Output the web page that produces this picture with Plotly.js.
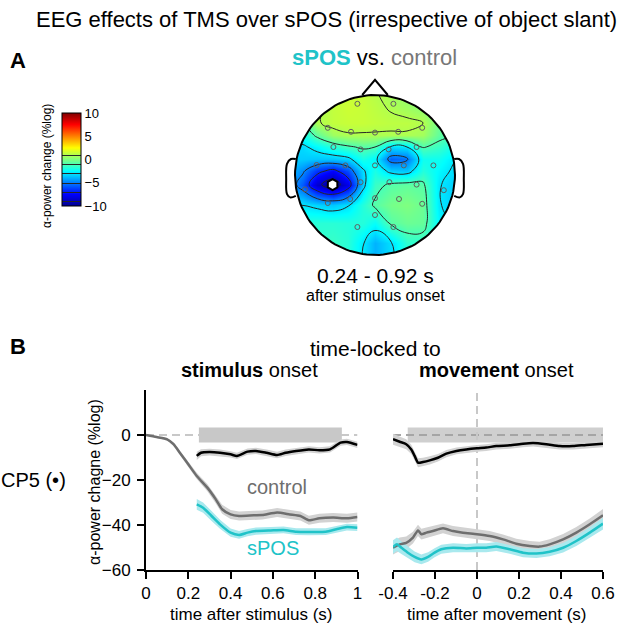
<!DOCTYPE html>
<html>
<head>
<meta charset="utf-8">
<script src="https://cdn.plot.ly/plotly-3.0.1.min.js"></script>
<style>
  body { margin: 0; background: #fff; }
  #chart { width: 640px; height: 626px; }
</style>
</head>
<body>
<div id="chart"></div>
<script>
// ---- panel B, stimulus-locked (time s, alpha power change %log) ----
var stimCtrlT = [0, 0.05, 0.1, 0.13, 0.16, 0.2, 0.24, 0.29, 0.33, 0.36, 0.4, 0.44, 0.51, 0.55, 0.62, 0.68, 0.73, 0.77, 0.82, 0.885, 0.95, 1.0];
var stimCtrl  = [0, -0.9, -1.9, -4.1, -7.9, -13, -18.2, -23.4, -28.6, -33, -35.3, -36, -35.7, -35.6, -34.5, -35.3, -36, -37.9, -37, -36.7, -37, -36.4];
var stimCtrlSem = [0, 0.3, 0.5, 0.8, 1, 1.2, 1.4, 1.6, 1.8, 2, 2, 2, 2, 2, 2, 2, 2, 2, 2, 2, 2, 2];

var stimSposT = [0.24, 0.27, 0.31, 0.35, 0.4, 0.44, 0.48, 0.52, 0.59, 0.65, 0.71, 0.77, 0.85, 0.9, 0.95, 1.0];
var stimSpos  = [-30.8, -32.3, -36, -39.7, -43.4, -44.4, -43.4, -42.7, -42.4, -42.2, -43, -43.1, -43, -41.9, -40.9, -41.2];
var stimSposSem = [2.4, 2.3, 2.2, 2, 1.8, 1.7, 1.6, 1.6, 1.5, 1.5, 1.5, 1.5, 1.5, 1.5, 1.5, 1.5];

var stimDiffT = [0.24, 0.26, 0.3, 0.35, 0.4, 0.43, 0.48, 0.52, 0.57, 0.62, 0.66, 0.71, 0.77, 0.82, 0.87, 0.92, 0.95, 1.0];
var stimDiff  = [-9.3, -7.9, -7.6, -7.9, -8.6, -9.3, -7.4, -7.1, -7.9, -8.9, -7.9, -7.1, -6.4, -6.8, -6.4, -3.4, -3.1, -4.4];
var stimDiffSem = [1.8, 1.6, 1.5, 1.5, 1.4, 1.4, 1.4, 1.4, 1.4, 1.4, 1.4, 1.4, 1.4, 1.4, 1.4, 1.4, 1.4, 1.4];

var stimSig = [0.25, 0.926];

// ---- panel B, movement-locked ----
var moveCtrlT = [-0.4, -0.368, -0.337, -0.305, -0.281, -0.265, -0.241, -0.21, -0.162, -0.114, -0.067, 0, 0.06, 0.124, 0.187, 0.251, 0.298, 0.346, 0.41, 0.473, 0.537, 0.6];
var moveCtrl  = [-50.1, -48.6, -47.9, -45.6, -42.4, -44.1, -43.4, -42.7, -41.5, -42.7, -43.4, -44.1, -44.9, -46.4, -48.3, -49.3, -49.6, -48.6, -46.4, -43.4, -39.7, -35.7];
var moveCtrlSem = [3, 3, 2.8, 2.6, 2.5, 2.4, 2.3, 2.2, 2.2, 2.2, 2.2, 2.2, 2.2, 2.2, 2.2, 2.2, 2.2, 2.3, 2.4, 2.5, 2.6, 2.8];

var moveSposT = [-0.4, -0.381, -0.36, -0.329, -0.297, -0.265, -0.233, -0.202, -0.17, -0.114, -0.051, 0, 0.044, 0.092, 0.156, 0.219, 0.283, 0.346, 0.41, 0.473, 0.537, 0.6];
var moveSpos  = [-49.8, -48.6, -50.1, -52.3, -54.2, -55.3, -54.2, -52.3, -50.8, -50.1, -50.4, -50.1, -50.1, -49.6, -50.8, -52.3, -52.7, -51.9, -50.1, -47.1, -43.4, -39.4];
var moveSposSem = [3, 3, 2.8, 2.6, 2.4, 2.2, 2.1, 2, 2, 2, 2, 2, 2, 2, 2, 2, 2, 2, 2.1, 2.2, 2.4, 2.6];

var moveDiffT = [-0.4, -0.368, -0.337, -0.313, -0.297, -0.281, -0.257, -0.225, -0.186, -0.146, -0.098, -0.051, 0, 0.044, 0.092, 0.156, 0.219, 0.267, 0.33, 0.394, 0.457, 0.52, 0.6];
var moveDiff  = [-1.9, -3, -4.1, -6.4, -9.3, -12.3, -12, -11.3, -10.1, -8.3, -7.1, -6.4, -5.9, -5.6, -4.9, -4.6, -3.9, -3.6, -4.1, -4.9, -4.9, -4.4, -3.9];
var moveDiffSem = [2.4, 2.3, 2.2, 2.1, 2, 2, 1.9, 1.8, 1.7, 1.6, 1.5, 1.5, 1.5, 1.5, 1.5, 1.5, 1.5, 1.5, 1.5, 1.5, 1.5, 1.5, 1.5];

var moveSig = [-0.33, 0.6];
var sigBand = [-3.3, 3.3];

// ---- panel A, topography (head radius = 1), grid ----
var topoX = [-1.1, -0.9, -0.72, -0.53, -0.34, -0.15, 0.0, 0.2, 0.4, 0.6, 0.8, 1.1];
var topoY = [-1.1, -0.85, -0.6, -0.38, -0.12, 0.05, 0.2, 0.35, 0.5, 0.65, 0.85, 1.1];
var topoZ = [
  [-1.8, -1.7, -1.5, -1.4, -1.8, -3.0, -4.0, -3.2, -1.8, -1.7, -2.3, -2.8],
  [-1.8, -1.7, -1.5, -1.4, -1.7, -2.9, -4.0, -3.1, -1.6, -1.6, -2.3, -3.0],
  [-2.0, -1.8, -1.7, -1.7, -1.8, -1.8, -2.4, -0.8, -0.4, -0.5, -2.6, -3.4],
  [-3.0, -3.0, -3.3, -3.6, -3.1, -1.8, -0.8, -0.2, 0.0, -0.4, -2.9, -3.8],
  [-3.8, -5.8, -8.6, -10.0, -8.0, -3.4, -1.4, -0.8, -0.6, -0.8, -2.9, -3.8],
  [-3.6, -4.8, -6.5, -7.5, -6.0, -3.2, -2.0, -3.4, -3.6, -1.8, -2.6, -3.5],
  [-3.4, -3.5, -3.6, -3.6, -3.3, -2.0, -2.6, -5.6, -5.2, -2.2, -2.2, -3.3],
  [-3.3, -3.2, -2.6, -1.8, -1.2, -0.8, -1.0, -3.2, -3.0, -0.9, -1.4, -2.6],
  [-2.4, -2.2, -0.6, 0.6, 0.9, 0.9, 0.9, 0.9, 0.9, 0.7, -0.6, -1.4],
  [-1.6, -1.3, 0.9, 1.3, 1.4, 1.4, 1.3, 1.2, 1.2, 1.0, -0.3, -1.2],
  [-1.2, -0.8, 0.8, 1.3, 1.5, 1.4, 1.2, 0.9, 0.6, 0.2, -0.5, -1.0],
  [-1.0, -0.6, 0.6, 1.2, 1.4, 1.3, 1.0, 0.6, 0.2, -0.2, -0.6, -1.0]
];
var elecX = [-0.22, 0.23, -0.59, -0.30, 0.0, 0.29, 0.59, -0.52, -0.18, 0.17, 0.52, -0.73, -0.37, 0.0, 0.36, 0.73, -0.875, -0.18, 0.18, 0.52, 0.86, -0.31, 0.0, 0.3, -0.59, 0.59, 0.0, -0.22, 0.23];
var elecY = [0.89, 0.89, 0.59, 0.54, 0.53, 0.54, 0.59, 0.35, 0.32, 0.32, 0.35, 0.125, 0.12, 0.12, 0.12, 0.12, -0.18, -0.09, -0.09, -0.12, -0.19, -0.30, -0.29, -0.3, -0.35, -0.36, -0.5, -0.65, -0.65];
var cp5 = [-0.53, -0.12];

var teal = '#20c3c8', grey = '#6e6e6e';
var W = 640, H = 626;
function px(x) { return x / W; }
function py(y) { return 1 - y / H; }

function band(t, v, s, color, xa, ya) {
    var bx = t.slice(), by = [];
    for (var i = 0; i < t.length; i++) by.push(v[i] + s[i]);
    for (i = t.length - 1; i >= 0; i--) { bx.push(t[i]); by.push(v[i] - s[i]); }
    return {x: bx, y: by, xaxis: xa, yaxis: ya, mode: 'lines', fill: 'toself',
            fillcolor: color, line: {width: 0}, hoverinfo: 'skip'};
}
function line(t, v, color, xa, ya) {
    return {x: t, y: v, xaxis: xa, yaxis: ya, mode: 'lines',
            line: {color: color, width: 2.5, shape: 'spline', smoothing: 0.6}};
}

// head outline + white mask outside the head (outer square runs the other way round)
var circX = [], circY = [];
for (var k = 0; k <= 120; k++) {
    var a = 2 * Math.PI * k / 120;
    circX.push(Math.cos(a)); circY.push(Math.sin(a));
}
var maskX = circX.concat([1.3, 1.3, -1.3, -1.3, 1.3, 1.3, 1]);
var maskY = circY.concat([0, -1.3, -1.3, 1.3, 1.3, 0, 0]);
var noseX = [-0.16, 0, 0.16], noseY = [1.0, 1.19, 1.0];
var earX = [-0.99, -1.05, -1.1, -1.11, -1.1, -1.06, -0.99];
var earY = [0.2, 0.2, 0.14, -0.05, -0.24, -0.28, -0.26];
var earRX = earX.map(function (v) { return -v; });

var jet = [[0, '#00008f'], [0.125, '#0000ff'], [0.375, '#00ffff'],
           [0.625, '#ffff00'], [0.875, '#ff0000'], [1, '#800000']];

var traces = [
    band(stimCtrlT, stimCtrl, stimCtrlSem, '#d2d2d2', 'x', 'y'),
    band(stimDiffT, stimDiff, stimDiffSem, '#d2d2d2', 'x', 'y'),
    band(stimSposT, stimSpos, stimSposSem, '#a9e9ee', 'x', 'y'),
    line(stimCtrlT, stimCtrl, grey, 'x', 'y'),
    line(stimDiffT, stimDiff, '#000', 'x', 'y'),
    line(stimSposT, stimSpos, teal, 'x', 'y'),
    band(moveCtrlT, moveCtrl, moveCtrlSem, '#d2d2d2', 'x2', 'y2'),
    band(moveDiffT, moveDiff, moveDiffSem, '#d2d2d2', 'x2', 'y2'),
    band(moveSposT, moveSpos, moveSposSem, '#a9e9ee', 'x2', 'y2'),
    line(moveCtrlT, moveCtrl, grey, 'x2', 'y2'),
    line(moveDiffT, moveDiff, '#000', 'x2', 'y2'),
    line(moveSposT, moveSpos, teal, 'x2', 'y2'),
    {type: 'contour', x: topoX, y: topoY, z: topoZ, xaxis: 'x3', yaxis: 'y3',
     colorscale: jet, zmin: -10, zmax: 10, zauto: false, autocontour: false,
     contours: {start: -9, end: 1, size: 2, coloring: 'heatmap'},
     line: {color: '#262626', width: 1, smoothing: 1.3},
     colorbar: {x: px(62), xanchor: 'left', y: py(159.5), yanchor: 'middle',
                len: 93, lenmode: 'pixels', thickness: 19, thicknessmode: 'pixels',
                xpad: 0, ypad: 0, outlinewidth: 1, outlinecolor: '#000',
                tickvals: [-10, -5, 0, 5, 10], ticks: '', ticklabelstandoff: 6,
                tickfont: {size: 13, color: '#000'}}},
    {x: maskX, y: maskY, xaxis: 'x3', yaxis: 'y3', mode: 'lines', fill: 'toself',
     fillcolor: '#fff', line: {width: 0}, hoverinfo: 'skip'},
    {x: circX, y: circY, xaxis: 'x3', yaxis: 'y3', mode: 'lines', line: {color: '#000', width: 2}},
    {x: noseX, y: noseY, xaxis: 'x3', yaxis: 'y3', mode: 'lines', line: {color: '#000', width: 2}},
    {x: earX, y: earY, xaxis: 'x3', yaxis: 'y3', mode: 'lines', line: {color: '#000', width: 2, shape: 'spline'}},
    {x: earRX, y: earY, xaxis: 'x3', yaxis: 'y3', mode: 'lines', line: {color: '#000', width: 2, shape: 'spline'}},
    {x: elecX, y: elecY, xaxis: 'x3', yaxis: 'y3', mode: 'markers',
     marker: {symbol: 'circle-open', size: 5, color: '#5f5f5f', line: {width: 1}}},
    {x: [cp5[0]], y: [cp5[1]], xaxis: 'x3', yaxis: 'y3', mode: 'markers',
     marker: {symbol: 'hexagon', size: 11, color: '#fff', line: {color: '#000', width: 2}}}
];

var tickStim = [0, 0.2, 0.4, 0.6, 0.8, 1];
var tickMove = [-0.4, -0.2, 0, 0.2, 0.4, 0.6];
var axisCommon = {showgrid: false, zeroline: false, showline: true, linecolor: '#000',
                  linewidth: 2, ticks: 'outside', ticklen: 7, tickwidth: 2, tickcolor: '#000',
                  tickfont: {size: 17, color: '#000'}, fixedrange: true};
var yDom = [py(570), py(390)];

var layout = {
    width: W, height: H, margin: {l: 0, r: 0, t: 0, b: 0}, autosize: false,
    showlegend: false, paper_bgcolor: '#fff', plot_bgcolor: 'rgba(0,0,0,0)',
    font: {family: 'Liberation Sans, Arial, sans-serif', color: '#000'},
    xaxis: Object.assign({}, axisCommon, {domain: [px(146), px(357.5)], range: [0, 1],
        anchor: 'y', tickvals: tickStim, ticktext: tickStim.map(String)}),
    yaxis: Object.assign({}, axisCommon, {domain: yDom, range: [-60, 20], anchor: 'x',
        tickvals: [0, -20, -40, -60], ticklabelstandoff: 3}),
    xaxis2: Object.assign({}, axisCommon, {domain: [px(393), px(603)], range: [-0.4, 0.6],
        anchor: 'y2', tickvals: tickMove, ticktext: tickMove.map(String)}),
    yaxis2: {domain: yDom, range: [-60, 20], anchor: 'x2', visible: false, fixedrange: true},
    xaxis3: {domain: [px(275), px(475)], range: [-1.25, 1.25], anchor: 'y3', visible: false},
    yaxis3: {domain: [py(275), py(75)], range: [-1.25, 1.25], anchor: 'x3', visible: false},
    shapes: [
        {type: 'line', xref: 'x', yref: 'y', x0: 0, x1: 1, y0: 0, y1: 0, layer: 'below',
         line: {color: '#c8c8c8', width: 2, dash: '8px,5px'}},
        {type: 'rect', xref: 'x', yref: 'y', x0: stimSig[0], x1: stimSig[1], y0: sigBand[0], y1: sigBand[1],
         layer: 'below', fillcolor: '#c8c8c8', line: {width: 0}},
        {type: 'rect', xref: 'x2', yref: 'y2', x0: moveSig[0], x1: moveSig[1], y0: sigBand[0], y1: sigBand[1],
         layer: 'below', fillcolor: '#cfcfcf', line: {width: 0}},
        {type: 'line', xref: 'x2', yref: 'y2', x0: -0.4, x1: 0.6, y0: 0, y1: 0, layer: 'below',
         line: {color: '#a5a5a5', width: 2, dash: '8px,5px'}},
        {type: 'line', xref: 'x2', yref: 'y2', x0: 0, x1: 0, y0: -60, y1: 20, layer: 'below',
         line: {color: '#c8c8c8', width: 2, dash: '8px,5px'}}
    ],
    annotations: []
};

function ann(text, x, y, size, extra) {
    var a = {text: text, x: px(x), y: py(y), xref: 'paper', yref: 'paper', showarrow: false,
             xanchor: 'center', yanchor: 'middle', font: {size: size, color: '#000'}};
    return Object.assign(a, extra || {});
}
layout.annotations = [
    ann('EEG effects of TMS over sPOS (irrespective of object slant)', 326, 20, 22),
    ann('<b>A</b>', 18, 60, 22),
    ann('<b>B</b>', 18, 346, 22),
    ann('<span style="color:' + teal + '"><b>sPOS</b></span> vs. <span style="color:#777">control</span>', 374, 57, 22),
    ann('0.24 - 0.92 s', 375, 275, 21),
    ann('after stimulus onset', 375, 296, 16),
    ann('α-power change (%log)', 47, 166, 12, {textangle: -90}),
    ann('time-locked to', 375, 348, 21),
    ann('<b>stimulus</b> onset', 249, 370, 20),
    ann('<b>movement</b> onset', 417, 370, 20, {xanchor: 'left'}),
    ann('CP5 (•)', 33, 480, 20),
    ann('α-power chagne (%log)', 94, 482, 16, {textangle: -90}),
    ann('control', 277, 487, 20, {font: {size: 20, color: grey}}),
    ann('sPOS', 273, 548, 20, {font: {size: 20, color: teal}}),
    ann('time after stimulus (s)', 251, 614, 17),
    ann('time after movement (s)', 497, 614, 17)
];

Plotly.newPlot('chart', traces, layout, {displayModeBar: false, staticPlot: true});
</script>
</body>
</html>
